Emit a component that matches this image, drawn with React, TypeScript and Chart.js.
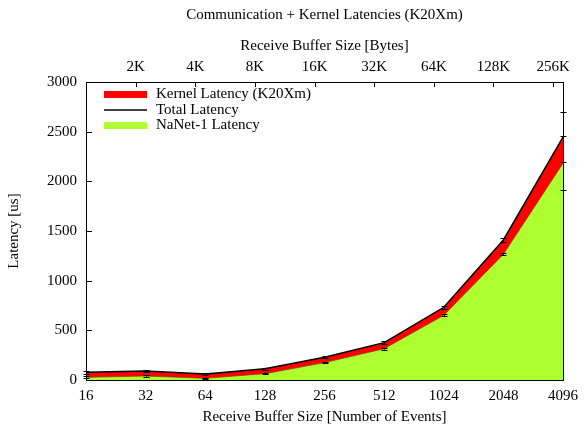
import React, { useEffect, useRef } from "react";
import { Chart, registerables } from "chart.js";

Chart.register(...registerables);

const categories = ["16", "32", "64", "128", "256", "512", "1024", "2048", "4096"];
const topLabels = ["2K", "4K", "8K", "16K", "32K", "64K", "128K", "256K"];
const totalLatency = [77, 90, 60, 114, 228, 376, 732, 1410, 2444];
const nanetLatency = [27, 40, 17, 64, 175, 315, 651, 1266, 2182];
const totalErr = [12, 10, 8, 10, 10, 12, 15, 20, 250];
const nanetErr = [10, 8, 8, 8, 8, 8, 10, 12, 270];
const yTicks = [0, 500, 1000, 1500, 2000, 2500, 3000];

const FONT = "'Liberation Serif', 'Times New Roman', serif";
const FS = 15;

const extrasPlugin = {
  id: "extras",
  afterDatasetsDraw(chart: any) {
    const ctx = chart.ctx;
    const x = chart.scales.x;
    const y = chart.scales.y;
    ctx.save();
    ctx.strokeStyle = "#000";
    ctx.lineWidth = 1;
    const drawErr = (vals: number[], errs: number[]) => {
      vals.forEach((v, i) => {
        const px = Math.round(x.getPixelForValue(i)) + 0.5;
        const y1 = y.getPixelForValue(v - errs[i]);
        const y2 = y.getPixelForValue(v + errs[i]);
        ctx.beginPath();
        ctx.moveTo(px, y1);
        ctx.lineTo(px, y2);
        ctx.moveTo(px - 3, Math.round(y1) + 0.5);
        ctx.lineTo(px + 3, Math.round(y1) + 0.5);
        ctx.moveTo(px - 3, Math.round(y2) + 0.5);
        ctx.lineTo(px + 3, Math.round(y2) + 0.5);
        ctx.stroke();
      });
    };
    drawErr(totalLatency, totalErr);
    drawErr(nanetLatency, nanetErr);
    ctx.restore();
  },
  afterDraw(chart: any) {
    const ctx = chart.ctx;
    const area = chart.chartArea;
    const y = chart.scales.y;
    const x2 = chart.scales.x2;
    ctx.save();
    ctx.strokeStyle = "#000";
    ctx.lineWidth = 1;
    ctx.beginPath();
    yTicks.forEach((v) => {
      const py = Math.round(y.getPixelForValue(v)) + 0.5;
      ctx.moveTo(area.left, py);
      ctx.lineTo(area.left + 6, py);
    });
    topLabels.forEach((_, i) => {
      const px = Math.round(x2.getPixelForValue(i + 1)) + 0.5;
      ctx.moveTo(px, area.top);
      ctx.lineTo(px, area.top + 5);
    });
    ctx.stroke();
    ctx.strokeRect(Math.round(area.left) + 0.5, Math.round(area.top) + 0.5, Math.round(area.right - area.left), Math.round(area.bottom - area.top));
    ctx.fillStyle = "#000";
    ctx.font = `${FS}px ${FONT}`;
    ctx.textAlign = "center";
    ctx.textBaseline = "middle";
    ctx.fillText("Communication + Kernel Latencies (K20Xm)", (area.left + area.right) / 2, 15);
    const lx0 = area.left + 18;
    const lx1 = lx0 + 43;
    const tx = lx1 + 9;
    const rows = [94.5, 110, 125.5];
    ctx.textAlign = "left";
    ctx.fillStyle = "#ff0000";
    ctx.fillRect(lx0, rows[0] - 3.5, lx1 - lx0, 7);
    ctx.beginPath();
    ctx.strokeStyle = "#000";
    ctx.lineWidth = 1.5;
    ctx.moveTo(lx0, rows[1]);
    ctx.lineTo(lx1, rows[1]);
    ctx.stroke();
    ctx.fillStyle = "#adff2f";
    ctx.fillRect(lx0, rows[2] - 3.5, lx1 - lx0, 7);
    ctx.fillStyle = "#000";
    ctx.fillText("Kernel Latency (K20Xm)", tx, rows[0]);
    ctx.fillText("Total Latency", tx, rows[1]);
    ctx.fillText("NaNet-1 Latency", tx, rows[2]);
    ctx.restore();
  },
};

export default function App() {
  const ref = useRef<HTMLCanvasElement | null>(null);
  useEffect(() => {
    if (!ref.current) return;
    const font = { family: FONT, size: FS };
    const chart = new Chart(ref.current, {
      type: "line",
      data: {
        labels: categories,
        datasets: [
          {
            label: "Kernel Latency (K20Xm)",
            data: totalLatency,
            backgroundColor: "#ff0000",
            borderWidth: 0,
            borderColor: "rgba(0,0,0,0)",
            pointRadius: 0,
            fill: 2,
            order: 2,
            tension: 0,
          },
          {
            label: "Total Latency",
            data: totalLatency,
            borderColor: "#000",
            borderWidth: 1.5,
            pointRadius: 0,
            fill: false,
            order: 1,
            tension: 0,
          },
          {
            label: "NaNet-1 Latency",
            data: nanetLatency,
            backgroundColor: "#adff2f",
            borderColor: "#4c8c1c",
            borderWidth: 1,
            pointRadius: 0,
            fill: "origin",
            order: 3,
            tension: 0,
          },
        ],
      },
      options: {
        animation: false,
        responsive: false,
        maintainAspectRatio: false,
        devicePixelRatio: 1,
        layout: { padding: { left: 0, right: 19, top: 0, bottom: 0 } },
        plugins: { legend: { display: false }, tooltip: { enabled: false }, title: { display: false } },
        scales: {
          x: {
            type: "category",
            position: "bottom",
            offset: false,
            grid: { display: false, drawTicks: false },
            border: { display: false },
            ticks: { font, color: "#000", padding: 7, maxRotation: 0, autoSkip: false },
            title: { display: true, text: "Receive Buffer Size [Number of Events]", font, color: "#000", padding: { top: 0, bottom: 2 } },
            afterFit: (s: any) => { s.height = 48; },
          },
          x2: {
            type: "linear",
            position: "top",
            min: 1 - 50 / 60,
            max: 8 + 10 / 60,
            grid: { display: false, drawTicks: false },
            border: { display: false },
            afterBuildTicks: (s: any) => { s.ticks = topLabels.map((_, i) => ({ value: i + 1 })); },
            ticks: {
              font,
              color: "#000",
              padding: 6,
              maxRotation: 0,
              autoSkip: false,
              callback: (v: any) => topLabels[Math.round(v) - 1] ?? "",
            },
            title: { display: true, text: "Receive Buffer Size [Bytes]", font, color: "#000", padding: { top: 37, bottom: 0 } },
            afterFit: (s: any) => { s.height = 82; },
          },
          y: {
            type: "linear",
            min: 0,
            max: 3000,
            grid: { display: false, drawTicks: false },
            border: { display: false },
            afterBuildTicks: (s: any) => { s.ticks = yTicks.map((v) => ({ value: v })); },
            ticks: { font, color: "#000", padding: 9, callback: (v: any) => String(v) },
            title: { display: true, text: "Latency [us]", font, color: "#000", padding: { top: 5, bottom: 0 } },
            afterFit: (s: any) => { s.width = 86; },
          },
        },
      },
      plugins: [extrasPlugin],
    } as any);
    return () => chart.destroy();
  }, []);
  return (
    <div style={{ position: "fixed", left: 0, top: 0, width: 585, height: 428, background: "#fff" }}>
      <canvas ref={ref} width={585} height={428} style={{ display: "block", width: 585, height: 428 }} />
    </div>
  );
}
